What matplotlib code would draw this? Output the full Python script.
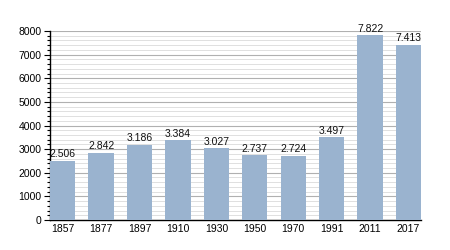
import matplotlib
matplotlib.use("Agg")
import matplotlib.pyplot as plt
from matplotlib.ticker import MultipleLocator

years = ["1857", "1877", "1897", "1910", "1930", "1950", "1970", "1991", "2011", "2017"]
values = [2506, 2842, 3186, 3384, 3027, 2737, 2724, 3497, 7822, 7413]
labels = ["2.506", "2.842", "3.186", "3.384", "3.027", "2.737", "2.724", "3.497", "7.822", "7.413"]
yticks = [0, 1000, 2000, 3000, 4000, 5000, 6000, 7000, 8000]

plt.rcParams['font.family'] = ['Liberation Sans', 'DejaVu Sans']
fig = plt.figure(figsize=(4.5, 2.5), dpi=100)
ax = fig.add_axes([0.111, 0.12, 0.825, 0.756])

x = list(range(len(years)))
w = 0.66
ax.bar(x, values, width=w, color="#9ab3cf", zorder=3)
for xi, v, lab in zip(x, values, labels):
    ax.text(xi, v + 60, lab, ha="center", va="bottom", fontsize=7.5, color="#111111", zorder=4)

ax.set_xlim(-w / 2, len(years) - 1 + w / 2)
ax.set_ylim(0, 8000)
ax.set_xticks(x)
ax.set_xticklabels(years)
ax.set_yticks(yticks)
ax.yaxis.set_minor_locator(MultipleLocator(200))
ax.grid(axis="y", which="major", color="#b0b0b0", linewidth=0.8, zorder=0)
ax.grid(axis="y", which="minor", color="#e0e0e0", linewidth=0.7, zorder=0)
for s in ["top", "right"]:
    ax.spines[s].set_visible(False)
ax.spines["left"].set_linewidth(1.0)
ax.spines["bottom"].set_linewidth(1.0)
ax.tick_params(axis="x", length=0, labelsize=7.5, pad=3)
ax.tick_params(axis="y", which="major", length=4, width=0.8, labelsize=7.5, pad=2)
ax.tick_params(axis="y", which="minor", length=2.5, width=0.8)

fig.savefig("out.png", dpi=100)
